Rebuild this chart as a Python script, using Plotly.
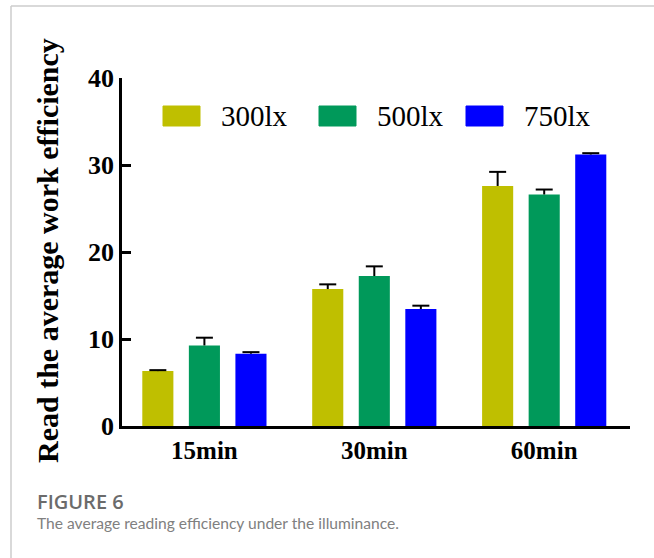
import plotly.graph_objects as go

# Reading time groups and illuminance levels
categories = ["15min", "30min", "60min"]
series_names = ["300lx", "500lx", "750lx"]

# Mean reading work efficiency per illuminance level (one value per time group)
eff_300 = [6.31, 15.74, 27.59]
eff_500 = [9.26, 17.24, 26.61]
eff_750 = [8.31, 13.44, 31.21]

# Upper error (standard error) for each bar
err_300 = [0.11, 0.54, 1.62]
err_500 = [0.89, 1.11, 0.57]
err_750 = [0.18, 0.39, 0.15]

y_ticks = [0, 10, 20, 30, 40]

colors = ["#BFBF00", "#00995A", "#0000FF"]
values = [eff_300, eff_500, eff_750]
errors = [err_300, err_500, err_750]

W, H = 654, 558
L, R, T, B = 122, 24, 78, 132
PW, PH = W - L - R, H - T - B


def px(x):
    return (x - L) / PW


def py(y):
    return (H - B - y) / PH


serif = "Liberation Serif, Times New Roman, serif"
sans = "Lato, Open Sans, sans-serif"

# Bars within a group: width and spacing in category units
BAR_W = 0.183
PITCH = 0.274
CAP = 0.05

fig = go.Figure()
for k, (name, vals, errs, col) in enumerate(zip(series_names, values, errors, colors)):
    offset = (k - 1) * PITCH
    xs = [i + offset for i in range(len(categories))]
    fig.add_trace(go.Bar(
        x=xs, y=vals, name=name, width=BAR_W,
        marker=dict(color=col, line=dict(width=0)),
        showlegend=False,
    ))
    # One-sided (upper) error bars: stem plus cap
    ex, ey = [], []
    for x, v, e in zip(xs, vals, errs):
        ex += [x, x, None, x - CAP, x + CAP, None]
        ey += [v, v + e, None, v + e, v + e, None]
    fig.add_trace(go.Scatter(
        x=ex, y=ey, mode="lines", line=dict(color="black", width=2),
        hoverinfo="skip", showlegend=False, cliponaxis=False,
    ))

shapes = []
annotations = []

# Custom legend: large colour swatches with serif labels
legend_left = [163, 319, 466]
for name, col, x0 in zip(series_names, colors, legend_left):
    shapes.append(dict(type="rect", xref="paper", yref="paper",
                       x0=px(x0), x1=px(x0 + 37), y0=py(126), y1=py(106),
                       fillcolor=col, line=dict(color=col, width=1)))
    annotations.append(dict(text=name, xref="paper", yref="paper",
                            x=px(x0 + 56), y=py(116), xanchor="left", yanchor="middle",
                            showarrow=False, font=dict(family=serif, size=29, color="black")))

# Y-axis title
annotations.append(dict(text="Read the average work efficiency", xref="paper", yref="paper",
                        x=px(47), y=py(251), xanchor="center", yanchor="middle",
                        textangle=-90, showarrow=False,
                        font=dict(family=serif, size=30, color="black", weight="bold")))

# Figure frame (left and top rules)
shapes.append(dict(type="line", xref="paper", yref="paper",
                   x0=px(11), x1=px(11), y0=py(6), y1=py(H),
                   line=dict(color="#cccccc", width=1.5)))
shapes.append(dict(type="line", xref="paper", yref="paper",
                   x0=px(11), x1=px(W), y0=py(6), y1=py(6),
                   line=dict(color="#cccccc", width=1.5)))

# Caption
annotations.append(dict(text="FIGURE 6", xref="paper", yref="paper",
                        x=px(35), y=py(501), xanchor="left", yanchor="middle",
                        showarrow=False,
                        font=dict(family="Open Sans, sans-serif", size=20,
                                  color="#6b6b6b", weight=600)))
annotations.append(dict(text="The average reading efficiency under the illuminance.",
                        xref="paper", yref="paper",
                        x=px(35), y=py(523), xanchor="left", yanchor="middle",
                        showarrow=False, font=dict(family=sans, size=15.6, color="#808080")))

fig.update_layout(
    width=W, height=H,
    margin=dict(l=L, r=R, t=T, b=B),
    paper_bgcolor="white", plot_bgcolor="white",
    barmode="overlay",
    shapes=shapes, annotations=annotations,
    xaxis=dict(
        range=[-0.485, 2.505],
        tickvals=list(range(len(categories))), ticktext=categories,
        showline=True, linecolor="black", linewidth=2.5,
        ticks="", showgrid=False, zeroline=False,
        tickfont=dict(family=serif, size=25, color="black", weight="bold"),
    ),
    yaxis=dict(
        range=[0, 40], tickvals=y_ticks,
        showline=True, linecolor="black", linewidth=2.5,
        ticks="inside", ticklen=9, tickwidth=2.5, tickcolor="black",
        showgrid=False, zeroline=False,
        tickfont=dict(family=serif, size=26, color="black", weight="bold"),
    ),
)

fig.write_html("out.html")
